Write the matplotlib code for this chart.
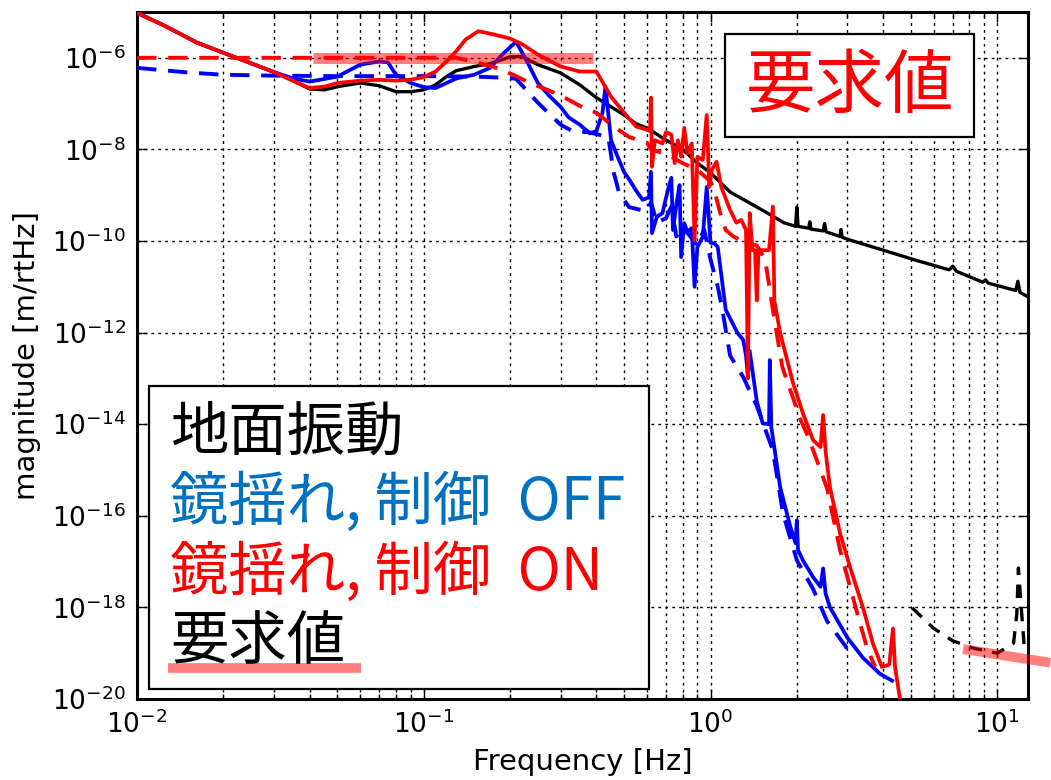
import numpy as np
import matplotlib
matplotlib.use("Agg")
import matplotlib.pyplot as plt
from matplotlib.patches import Rectangle
from matplotlib.lines import Line2D
from matplotlib.ticker import LogLocator, NullLocator, LogFormatterSciNotation

plt.rcParams['mathtext.default'] = 'regular'
plt.rcParams['axes.unicode_minus'] = False
CJK = ['Noto Sans CJK JP', 'DejaVu Sans']

# Data (magnitudes stored as log10 exponents)

# ground vibration (black solid)
ground_f = [0.01, 0.0123, 0.0162, 0.02, 0.025, 0.03, 0.035, 0.04, 0.045, 0.05, 0.06, 0.07,
            0.08, 0.09, 0.1, 0.11, 0.12, 0.13, 0.15, 0.17, 0.2, 0.22, 0.25, 0.3, 0.35, 0.4,
            0.45, 0.5, 0.55, 0.6, 0.68, 0.8, 0.9, 1.0, 1.17, 1.37, 1.62, 1.8, 1.98, 2.0, 2.02,
            2.2, 2.22, 2.24, 2.47, 2.5, 2.53, 2.83, 2.85, 2.88, 3.07, 4.0, 5.2, 6.8, 7.0, 7.2,
            8.9, 9.1, 9.3, 11.6, 11.8, 12.0, 12.8]
ground_exp = [-5.02, -5.28, -5.67, -5.89, -6.12, -6.31, -6.5, -6.68, -6.70, -6.63, -6.55, -6.61,
              -6.74, -6.74, -6.70, -6.59, -6.41, -6.28, -6.19, -6.13, -5.98, -5.97, -6.15, -6.33, -6.59, -6.87,
              -7.07, -7.25, -7.44, -7.53, -7.75, -8.0, -8.3, -8.51, -8.93, -9.17, -9.43, -9.6, -9.68, -9.26, -9.68,
              -9.72, -9.58, -9.74, -9.78, -9.62, -9.8, -9.9, -9.75, -9.92, -9.98, -10.2, -10.42, -10.63, -10.55, -10.66,
              -10.9, -10.85, -10.92, -11.08, -10.88, -11.12, -11.22]

# mirror motion, control OFF (blue solid / blue dashed)
off_f = [0.01, 0.0123, 0.0162, 0.02, 0.025, 0.03, 0.035, 0.04, 0.05, 0.06, 0.07, 0.075, 0.08,
         0.09, 0.1, 0.11, 0.12, 0.13, 0.15, 0.17, 0.19, 0.21, 0.23, 0.25, 0.276, 0.3, 0.32, 0.35,
         0.38, 0.4, 0.42, 0.43, 0.45, 0.47, 0.5, 0.52, 0.55, 0.58, 0.61, 0.62, 0.625, 0.65, 0.68,
         0.71, 0.73, 0.74, 0.76, 0.78, 0.79, 0.81, 0.83, 0.86, 0.88, 0.9, 0.94, 0.97, 1.0, 1.03,
         1.06, 1.13, 1.24, 1.3, 1.33, 1.35, 1.37, 1.45, 1.52, 1.6, 1.61, 1.63, 1.75, 1.9, 1.98,
         2.0, 2.02, 2.1, 2.28, 2.42, 2.47, 2.52, 2.61, 3.0, 3.4, 3.9, 4.3]
off_exp = [-5.02, -5.28, -5.67, -5.89, -6.12, -6.31, -6.45, -6.52, -6.41, -6.15, -6.08, -6.1, -6.37,
           -6.55, -6.64, -6.66, -6.55, -6.45, -6.37, -6.22, -5.9, -5.65, -6.1, -6.55, -6.85, -7.07, -7.3, -7.46,
           -7.65, -7.6, -7.2, -6.63, -7.8, -8.1, -8.5, -8.65, -8.9, -9.1, -9.05, -8.49, -9.83, -9.47, -9.39,
           -8.89, -8.62, -9.76, -9.2, -8.78, -10.35, -9.61, -9.8, -9.72, -11.0, -10.13, -9.91, -8.82, -10.04, -10.05,
           -10.13, -11.5, -12.0, -12.16, -12.5, -12.97, -12.4, -13.5, -13.98, -14.0, -12.6, -14.07, -15.38, -16.25, -16.6,
           -16.1, -16.75, -16.97, -17.34, -17.55, -17.15, -17.7, -18.0, -18.66, -19.1, -19.45, -19.6]
off_dash_f = [0.01, 0.015, 0.02, 0.03, 0.05, 0.1, 0.15, 0.2, 0.21, 0.25, 0.3, 0.33, 0.38, 0.44,
              0.46, 0.48, 0.52, 0.57, 0.6, 0.62, 0.65, 0.7, 0.73, 0.76, 0.8, 0.85, 0.9, 0.95, 1.0,
              1.06, 1.1, 1.17, 1.3, 1.45, 1.65, 1.79, 2.0, 2.28, 2.55, 3.0, 3.1]
off_dash_exp = [-6.22, -6.32, -6.37, -6.39, -6.4, -6.4, -6.41, -6.44, -6.46, -6.98, -7.46, -7.6, -7.63, -7.73,
                -8.51, -8.95, -9.26, -9.32, -9.35, -9.15, -9.6, -9.5, -9.25, -9.9, -9.7, -9.9, -10.1, -9.75, -10.4,
                -11.0, -11.5, -12.5, -12.97, -13.6, -14.57, -15.95, -16.97, -17.6, -18.3, -18.9, -18.95]

# mirror motion, control ON (red solid / red dashed)
on_f = [0.01, 0.0123, 0.0162, 0.02, 0.025, 0.03, 0.035, 0.04, 0.045, 0.05, 0.06, 0.07, 0.08,
        0.09, 0.1, 0.11, 0.12, 0.13, 0.14, 0.155, 0.17, 0.2, 0.22, 0.25, 0.3, 0.35, 0.4, 0.45,
        0.5, 0.55, 0.6, 0.615, 0.62, 0.625, 0.64, 0.68, 0.70, 0.73, 0.75, 0.77, 0.79, 0.81, 0.83,
        0.86, 0.88, 0.9, 0.94, 0.97, 0.99, 1.01, 1.05, 1.09, 1.17, 1.23, 1.28, 1.33, 1.35, 1.37,
        1.4, 1.43, 1.45, 1.47, 1.6, 1.65, 1.67, 1.75, 1.94, 2.1, 2.28, 2.42, 2.47, 2.52, 2.61,
        2.83, 3.07, 3.4, 3.69, 3.96, 4.2, 4.33, 4.4, 4.58, 4.7]
on_exp = [-5.02, -5.28, -5.67, -5.89, -6.12, -6.31, -6.5, -6.66, -6.63, -6.55, -6.5, -6.48, -6.5,
          -6.48, -6.42, -6.3, -6.08, -5.85, -5.6, -5.42, -5.47, -5.58, -5.7, -5.93, -6.19, -6.3, -6.3, -6.85,
          -7.2, -7.5, -7.57, -7.6, -6.87, -8.38, -7.8, -7.87, -7.62, -7.68, -8.3, -7.8, -8.16, -7.53, -8.08,
          -7.87, -9.98, -8.16, -8.23, -7.25, -8.82, -8.45, -8.27, -8.82, -9.32, -9.6, -9.54, -9.76, -13.0, -9.39,
          -10.2, -10.2, -11.3, -10.2, -10.2, -9.25, -11.3, -12.01, -13.1, -13.76, -14.35, -14.5, -13.8, -14.6, -15.38,
          -16.38, -17.13, -18.0, -18.8, -19.3, -19.25, -18.46, -19.3, -20.0, -20.5]
on_dash_f = [0.01, 0.03, 0.1, 0.13, 0.148, 0.174, 0.205, 0.235, 0.27, 0.306, 0.35, 0.4, 0.46, 0.52,
             0.6, 0.62, 0.7, 0.8, 0.9, 1.0, 1.03, 1.09, 1.13, 1.2, 1.27, 1.45, 1.55, 1.65, 1.78,
             2.06, 2.2, 2.55, 2.83, 3.24, 3.52, 3.75]
on_dash_exp = [-6.0, -6.0, -6.0, -6.0, -6.08, -6.19, -6.37, -6.55, -6.7, -6.85, -7.05, -7.2, -7.5, -7.73,
               -7.85, -8.0, -8.1, -8.3, -8.45, -8.7, -8.89, -9.47, -9.76, -9.9, -9.98, -10.1, -10.4, -11.5, -12.75,
               -13.9, -14.3, -15.4, -16.75, -18.1, -18.9, -19.3]

# requirement (black dashed + translucent red bands)
req_f = [5.05, 5.98, 7.0, 8.24, 10.0, 11.4, 11.7, 11.85, 12.2, 12.4]
req_exp = [-18.01, -18.45, -18.73, -18.89, -19.0, -18.78, -18.14, -17.14, -18.23, -18.8]
req_low_f = [0.041, 0.39]
req_low_v = [1e-6, 1e-6]
req_high_f = [7.6, 15.3]
req_high_v = [1.23e-19, 6.2e-20]

legend_lines = ['地面振動', '鏡揺れ, 制御  OFF', '鏡揺れ, 制御  ON', '要求値']
legend_colors = ['black', '#0070C0', '#FF0000', 'black']

W, H = 1051, 780
fig = plt.figure(figsize=(W / 100, H / 100), dpi=100)
ax = fig.add_axes([137 / W, 1 - 699 / H, 891 / W, 687 / H])

pw = lambda e: 10.0 ** np.array(e)

ax.loglog(ground_f, pw(ground_exp), color='k', lw=2.4, zorder=3)
ax.loglog(off_dash_f, pw(off_dash_exp), color='#0000FF', lw=2.8, dashes=(5, 3), zorder=3)
ax.loglog(off_f, pw(off_exp), color='#0000FF', lw=2.7, zorder=3)
ax.loglog(on_dash_f, pw(on_dash_exp), color='#FF0000', lw=2.8, dashes=(5, 3), zorder=4)
ax.loglog(on_f, pw(on_exp), color='#FF0000', lw=2.7, zorder=4)
ax.loglog(req_f, pw(req_exp), color='k', lw=2.4, dashes=(4, 3), zorder=3)
ax.loglog(req_low_f, req_low_v, color='#FF0000', alpha=0.5, lw=8, solid_capstyle='butt', zorder=5)
ax.loglog(req_high_f, req_high_v, color='#FF0000', alpha=0.5, lw=7, solid_capstyle='butt',
          zorder=5, clip_on=False)

ax.set_xlim(0.01, 12.8)
ax.set_ylim(1e-20, 1e-5)
ax.set_yticks([10.0 ** k for k in range(-20, -5, 2)])
ax.yaxis.set_major_formatter(LogFormatterSciNotation())
ax.yaxis.set_minor_locator(NullLocator())
ax.xaxis.set_major_locator(LogLocator(base=10))
ax.xaxis.set_minor_locator(LogLocator(base=10, subs=np.arange(2, 10)))

ax.grid(True, which='both', color='k', ls=(0, (2, 3)), lw=1.0)
ax.tick_params(which='both', direction='in', top=True, right=True, labelsize=19, pad=8)
ax.tick_params(which='major', length=7, width=1)
ax.tick_params(which='minor', length=3.5, width=1)
for sp in ax.spines.values():
    sp.set_linewidth(2.2)

ax.set_xlabel('Frequency [Hz]', fontsize=21)
ax.set_ylabel('magnitude [m/rtHz]', fontsize=21)
ax.xaxis.set_label_coords(0.5, -0.071)
ax.xaxis.label.set_va('top')
ax.yaxis.set_label_coords(-0.108, 0.5)

# legend-like text box (lower left)
ax.add_patch(Rectangle((12 / 891, 10 / 687), 500 / 891, 303 / 687, transform=ax.transAxes,
                       facecolor='white', edgecolor='k', lw=1.6, zorder=6))
for i, (txt, col) in enumerate(zip(legend_lines, legend_colors)):
    fig.text(170 / W, 1 - (433 + 70 * i) / H, txt, color=col, fontsize=42, family=CJK,
             ha='left', va='center', zorder=7)
fig.add_artist(Line2D([168 / W, 361 / W], [1 - 668 / H, 1 - 668 / H], color='#FF0000', alpha=0.5,
                      lw=7, solid_capstyle='butt', zorder=8))

# requirement title box (upper right)
ax.add_patch(Rectangle((588 / 891, 562 / 687), 249 / 891, 103 / 687, transform=ax.transAxes,
                       facecolor='white', edgecolor='k', lw=1.6, zorder=6))
fig.text(850 / W, 1 - 87 / H, '要求値', color='#FF0000', fontsize=50, family=CJK,
         ha='center', va='center', zorder=7)

fig.savefig('out.png', dpi=100)
